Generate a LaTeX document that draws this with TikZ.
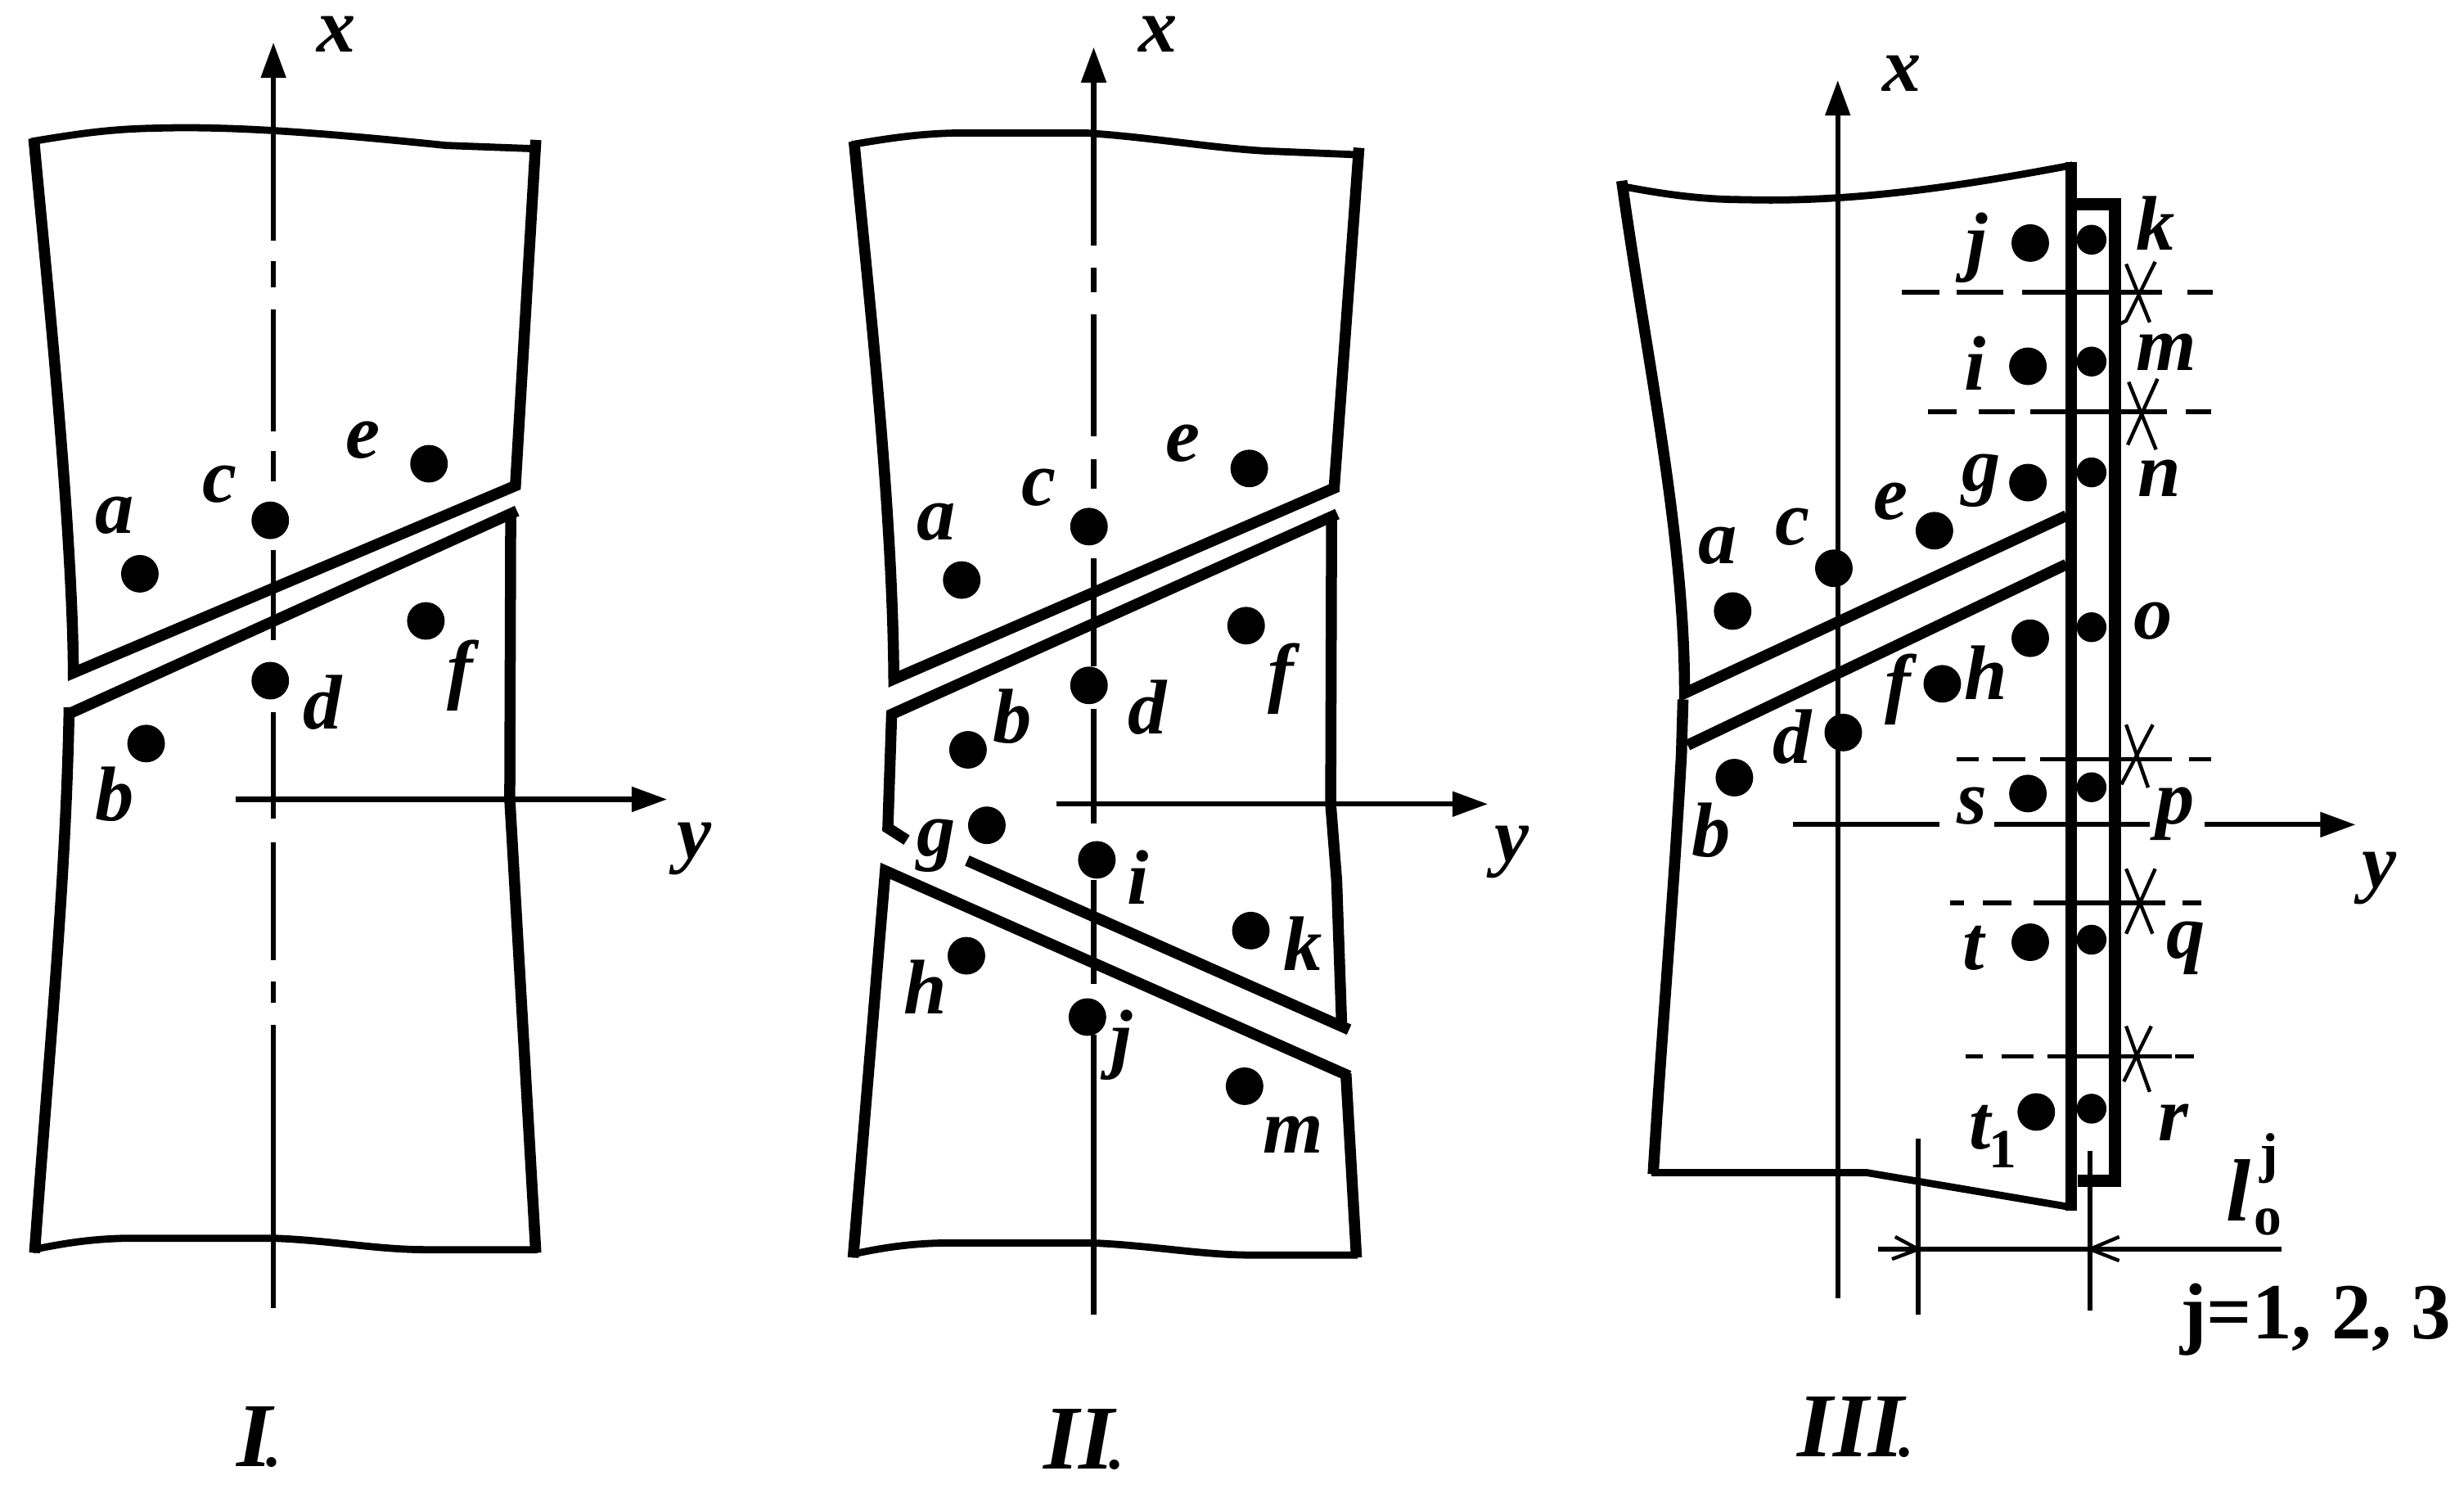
\documentclass[tikz,border=0pt]{standalone}
\usepackage{fontspec}
\setmainfont{Liberation Serif}
\usetikzlibrary{arrows.meta}
\tikzset{
  thickline/.style={line width=2pt,line join=miter,line cap=butt},
  thinline/.style={line width=1.3pt,line cap=butt},
  axis/.style={line width=0.9pt},
  axisarrow/.style={line width=0.9pt,-{Triangle[length=6.4pt,width=4.4pt]}},
  cutline/.style={line width=0.85pt},
  crossline/.style={line width=0.65pt},
  dotbig/.style={circle,fill=black,inner sep=0pt,minimum size=6.8pt},
  dotsmall/.style={circle,fill=black,inner sep=0pt,minimum size=5.4pt},
  lab/.style={inner sep=0pt,font=\fontsize{14}{14}\selectfont\bfseries\itshape},
  captext/.style={inner sep=0pt,font=\fontsize{16.5}{16.5}\selectfont\bfseries\itshape},
}
\newcommand{\ptb}[2]{\node[dotbig] (#1) at (#2) {};}
\newcommand{\pts}[2]{\node[dotsmall] (#1) at (#2) {};}
\newcommand{\lbl}[3]{\node[lab] (#1) at (#2) {#3};}
\newcommand{\capdot}{\kern-.06em{\fontsize{11}{11}\selectfont.}}
\begin{document}
\begin{tikzpicture}[x=0.01cm,y=-0.01cm]
\useasboundingbox (0,0) rectangle (1568,947);
% ---------- Panel I
\coordinate (IxB) at (174,832); \coordinate (IxT) at (174,27);
\coordinate (IyL) at (150,508.5); \coordinate (IyR) at (424.5,508.5);
\draw[axisarrow] (174,153) -- (IxT);
\draw[axis] (174,166) -- (174,183);
\draw[axis] (174,197) -- (174,274.6);
\draw[axis] (174,287) -- (174,306);
\draw[axis] (174,350) -- (174,407);
\draw[axis] (174,453) -- (174,520.6);
\draw[axis] (174,536) -- (174,610.7);
\draw[axis] (174,624.4) -- (174,638);
\draw[axis] (174,652) -- (IxB);
\draw[axisarrow] (IyL) -- (IyR);
\draw[thickline] (341,89) -- (328,309) -- (46.7,428) .. controls (46,330) and (28,160) .. (21.5,88);
\draw[thinline] (20,90) .. controls (50,85) and (70,82) .. (100,81.5) .. controls (150,80) and (210,85) .. (284,92.5) -- (343,94.7);
\draw[thickline] (329,325) -- (44,454);
\draw[thickline] (44,450) .. controls (42,560) and (32,660) .. (22,797);
\draw[thickline] (325,327) -- (324.4,508.4) -- (341,797);
\draw[thinline] (21,795) .. controls (40,791) and (60,787.7) .. (85,787.7) -- (173.6,787.7) .. controls (210,789) and (240,795) .. (271,795) -- (342,795);
\ptb{Ia}{89,365}\ptb{Ic}{172,331}\ptb{Ie}{273,295}\ptb{If}{271,395}\ptb{Id}{172,433}\ptb{Ib}{93,473}
\lbl{Ila}{73,328}{a}\lbl{Ilc}{140,308}{c}\lbl{Ile}{231,280}{e}\lbl{Ilf}{293,430}{f}\lbl{Ild}{205,447}{d}\lbl{Ilb}{73,505}{b}
\lbl{Ilx}{214,22}{x}\lbl{Ily}{442,540}{y}
\node[captext] (Icap) at (165,914) {I\capdot};
% ---------- Panel II
\coordinate (IIxB) at (696,836.5); \coordinate (IIxT) at (696,30);
\coordinate (IIyL) at (672.3,511.5); \coordinate (IIyR) at (946.8,511.5);
\draw[axisarrow] (696,156) -- (IIxT);
\draw[axis] (696,170.4) -- (696,186);
\draw[axis] (696,200) -- (696,277.7);
\draw[axis] (696,292) -- (696,311);
\draw[axis] (696,355) -- (696,424);
\draw[axis] (696,451) -- (696,523.7);
\draw[axis] (696,560) -- (696,626);
\draw[axis] (696,658) -- (IIxB);
\draw[axisarrow] (IIyL) -- (IIyR);
\draw[thickline] (864.8,94) -- (849,310.5) -- (568.8,432) .. controls (568,320) and (552,180) .. (543.5,90);
\draw[thinline] (542,92) .. controls (565,88) and (585,85) .. (609,84.6) -- (691,84.6) .. controls (730,87) and (770,94) .. (805,96) -- (866,98.5);
\draw[thickline] (851,327) -- (566,455);
\draw[thickline] (847.4,327) -- (846.8,511.5) -- (850.6,560) -- (853.8,652);
\draw[thickline] (567.5,452) -- (565,526.7) -- (577,534.4);
\draw[thickline] (615.5,547.5) -- (858.5,655);
\draw[thickline] (858.5,684.5) -- (563.4,554) -- (542.9,800);
\draw[thickline] (856.5,683) -- (863.2,800);
\draw[thinline] (542,798) .. controls (560,794) and (580,790.7) .. (605,790.7) -- (694.4,790.7) .. controls (730,792) and (765,798.4) .. (795.4,798.4) -- (864,798.4);
\ptb{IIa}{612,369}\ptb{IIc}{693,335}\ptb{IIe}{795,298}\ptb{IIf}{793,398}\ptb{IId}{693,436}\ptb{IIb}{616,477}
\ptb{IIg}{628,525}\ptb{IIi}{698,547}\ptb{IIk}{796,592}\ptb{IIh}{615,608}\ptb{IIj}{692,647}\ptb{IIm}{792,691}
\lbl{IIla}{596,332}{a}\lbl{IIlc}{661,310}{c}\lbl{IIle}{753,282}{e}\lbl{IIlf}{815,432}{f}\lbl{IIld}{730,450}{d}\lbl{IIlb}{644,456}{b}
\lbl{IIlg}{596,538}{g}\lbl{IIli}{724,558}{i}\lbl{IIlk}{829,600}{k}\lbl{IIlh}{589,628}{h}\lbl{IIlj}{714,665}{j}\lbl{IIlm}{823,722}{m}
\lbl{IIlx}{737,22}{x}\lbl{IIly}{962,542}{y}
\node[captext] (IIcap) at (689.7,916) {II\capdot};
% ---------- Panel III
\coordinate (IIIxB) at (1169.5,826); \coordinate (IIIxT) at (1169.5,51);
\coordinate (IIIyL) at (1141,524.6); \coordinate (IIIyA) at (1234,524.6);
\coordinate (IIIyB) at (1269,524.6); \coordinate (IIIyC) at (1368,524.6);
\coordinate (IIIyD) at (1403,524.6); \coordinate (IIIyR) at (1499,524.6);
\draw[axisarrow] (IIIxB) -- (IIIxT);
\draw[axis] (IIIyL) -- (IIIyA);
\draw[axis] (IIIyB) -- (IIIyC);
\draw[axisarrow] (IIIyD) -- (IIIyR);
\draw[thickline] (1032,115) .. controls (1048,230) and (1072,340) .. (1072,441) -- (1315,328);
\draw[thinline] (1030,118) .. controls (1060,124) and (1085,127) .. (1110,127) .. controls (1180,129) and (1250,118) .. (1319,105);
\draw[thickline] (1315,359) -- (1074,474);
\draw[thickline] (1071,445) -- (1070,480) .. controls (1065,570) and (1058,650) .. (1052,747);
\draw[thinline] (1051,746) -- (1188,746) -- (1318,768);
\draw[line width=2.2pt] (1318,103) -- (1318,770);
\draw[line width=2.2pt,line join=miter] (1318,130) -- (1346,130) -- (1346,751) -- (1322,751);
\ptb{IIIj}{1292,154.6}\ptb{IIIi}{1290.5,233}\ptb{IIIg}{1290.5,307}\ptb{IIIe}{1231,337.6}\ptb{IIIc}{1167,361.5}
\ptb{IIIa}{1102.6,388.7}\ptb{IIIh}{1292,406}\ptb{IIIf}{1236,435}\ptb{IIId}{1173,466}\ptb{IIIb}{1103.7,494.7}
\ptb{IIIs}{1290.5,504.8}\ptb{IIIt}{1292,599.4}\ptb{IIItt}{1295.8,707.4}
\pts{IIIk}{1331,152.5}\pts{IIIm}{1331,230}\pts{IIIn}{1331,300.5}\pts{IIIo}{1331,399}\pts{IIIp}{1331,500.8}\pts{IIIq}{1331,597.8}\pts{IIIr}{1331,705.3}
% dashed cuts
\foreach \a/\b in {1210/1234,1245/1275,1287/1376,1392/1408}{\draw[cutline] (\a,186) -- (\b,186);}
\foreach \a/\b in {1227/1245,1259/1282,1292/1379,1391/1407}{\draw[cutline] (\a,262) -- (\b,262);}
\foreach \a/\b in {1245/1259,1268/1289,1298/1382,1393/1407}{\draw[cutline] (\a,483) -- (\b,483);}
\foreach \a/\b in {1241/1250,1262/1280,1294/1378,1389/1401}{\draw[cutline] (\a,574.4) -- (\b,574.4);}
\foreach \a/\b in {1251/1262,1274/1294,1303/1382,1384/1396}{\draw[cutline] (\a,672) -- (\b,672);}
% crosses
\draw[crossline] (1353,168) -- (1368,205);
\draw[crossline] (1371.5,166.5) -- (1353,204) -- (1349,206);
\draw[crossline] (1354.6,243) -- (1372,286);
\draw[crossline] (1373,241) -- (1354,283);
\draw[crossline] (1353,461) -- (1367,501);
\draw[crossline] (1370,461) -- (1350,499);
\draw[crossline] (1353,552.7) -- (1369.8,594);
\draw[crossline] (1371.5,552.7) -- (1353,594);
\draw[crossline] (1353,652.8) -- (1368,694.6);
\draw[crossline] (1369,652.8) -- (1351.5,688);
\lbl{IIIlx}{1210.5,47}{x}\lbl{IIIlk}{1372,142}{k}\lbl{IIIlj}{1258,157.6}{j}\lbl{IIIlm}{1378.6,224}{m}\lbl{IIIli}{1257,231}{i}
\lbl{IIIln}{1374,304}{n}\lbl{IIIlg}{1261,305.6}{g}\lbl{IIIle}{1203,319}{e}\lbl{IIIlc}{1140.7,335}{c}\lbl{IIIla}{1093,347}{a}
\lbl{IIIlo}{1370,395}{o}\lbl{IIIlh}{1264,428}{h}\lbl{IIIlf}{1208,438.6}{f}\lbl{IIIld}{1140.7,468.5}{d}\lbl{IIIlb}{1089,528}{b}
\lbl{IIIls}{1255,513}{s}\lbl{IIIlp}{1384,517.6}{p}\lbl{IIIly}{1514,558.8}{y}\lbl{IIIlt}{1256,603}{t}\lbl{IIIlq}{1391,603}{q}\lbl{IIIlr}{1383,714}{r}
\lbl{IIIltt}{1260,717.5}{t}
\node[inner sep=0pt,font=\fontsize{10}{10}\selectfont\bfseries] (IIIsub) at (1274.6,731) {1};
% dimension
\coordinate (DimL) at (1220.7,794.7); \coordinate (DimR) at (1330,794.7);
\coordinate (DimA) at (1195,794.7); \coordinate (DimB) at (1452,794.7);
\draw[axis] (1220.7,724.5) -- (1220.7,836.5);
\draw[axis] (1330,732) -- (1330,833.5);
\draw[axis] (DimA) -- (DimB);
\draw[crossline] (1206,786.8) -- (DimL) -- (1204,801);
\draw[crossline] (1348.6,786.8) -- (DimR) -- (1348.6,802);
\node[inner sep=0pt,font=\fontsize{16}{16}\selectfont\bfseries\itshape] (IIIl) at (1424.4,757) {l};
\node[inner sep=0pt,font=\fontsize{10}{10}\selectfont\bfseries] (IIIsup) at (1443.8,737) {j};
\node[inner sep=0pt,font=\fontsize{10}{10}\selectfont\bfseries] (IIIsubo) at (1443,777.6) {o};
\node[inner sep=0pt,font=\fontsize{14.4}{14.4}\selectfont\bfseries] (IIIj) at (1473.7,839.5) {j=1, 2, 3};
\node[captext] (IIIcap) at (1181,908) {III\capdot};
\end{tikzpicture}
\end{document}
